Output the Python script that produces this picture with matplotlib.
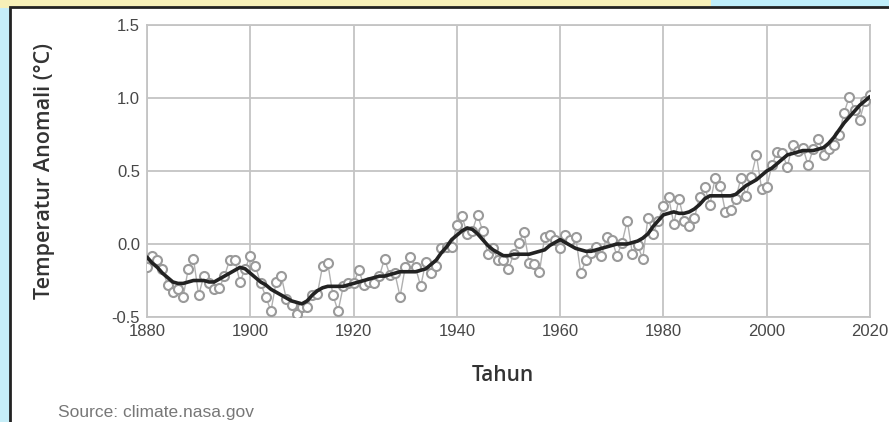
import numpy as np
import matplotlib
matplotlib.use('Agg')
import matplotlib.pyplot as plt
from matplotlib.patches import Rectangle

# Annual global surface temperature anomaly (deg C)
years = np.arange(1880, 2021)
annual = [
    -0.16, -0.08, -0.11, -0.17, -0.28, -0.33, -0.31, -0.36, -0.17, -0.10,
    -0.35, -0.22, -0.27, -0.31, -0.30, -0.22, -0.11, -0.11, -0.26, -0.17,
    -0.08, -0.15, -0.27, -0.36, -0.46, -0.26, -0.22, -0.38, -0.42, -0.48,
    -0.43, -0.43, -0.35, -0.34, -0.15, -0.13, -0.35, -0.46, -0.29, -0.27,
    -0.27, -0.18, -0.28, -0.26, -0.27, -0.22, -0.10, -0.21, -0.20, -0.36,
    -0.16, -0.09, -0.16, -0.29, -0.12, -0.20, -0.15, -0.03, -0.02, -0.02,
    0.13, 0.19, 0.07, 0.09, 0.20, 0.09, -0.07, -0.03, -0.11, -0.11,
    -0.17, -0.07, 0.01, 0.08, -0.13, -0.14, -0.19, 0.05, 0.06, 0.03,
    -0.03, 0.06, 0.03, 0.05, -0.20, -0.11, -0.06, -0.02, -0.08, 0.05,
    0.03, -0.08, 0.01, 0.16, -0.07, -0.01, -0.10, 0.18, 0.07, 0.16,
    0.26, 0.32, 0.14, 0.31, 0.16, 0.12, 0.18, 0.32, 0.39, 0.27,
    0.45, 0.40, 0.22, 0.23, 0.31, 0.45, 0.33, 0.46, 0.61, 0.38,
    0.39, 0.54, 0.63, 0.62, 0.53, 0.68, 0.64, 0.66, 0.54, 0.65,
    0.72, 0.61, 0.65, 0.68, 0.75, 0.90, 1.01, 0.92, 0.85, 0.98,
    1.02,
]
# Smoothed (lowess) curve
smooth = [
    -0.09, -0.13, -0.16, -0.20, -0.23, -0.26, -0.27, -0.27, -0.26, -0.25,
    -0.25, -0.25, -0.26, -0.26, -0.24, -0.22, -0.20, -0.18, -0.16, -0.17,
    -0.20, -0.23, -0.26, -0.28, -0.31, -0.33, -0.35, -0.37, -0.39, -0.40,
    -0.41, -0.39, -0.35, -0.32, -0.30, -0.29, -0.29, -0.29, -0.29, -0.28,
    -0.27, -0.26, -0.25, -0.24, -0.23, -0.22, -0.22, -0.21, -0.20, -0.19,
    -0.19, -0.19, -0.19, -0.18, -0.17, -0.14, -0.11, -0.06, -0.02, 0.03,
    0.06, 0.09, 0.11, 0.10, 0.07, 0.03, -0.01, -0.04, -0.06, -0.08,
    -0.08, -0.07, -0.07, -0.07, -0.07, -0.06, -0.05, -0.04, -0.01, 0.01,
    0.03, 0.01, -0.01, -0.03, -0.04, -0.05, -0.05, -0.04, -0.03, -0.02,
    -0.01, 0.00, 0.00, 0.00, 0.01, 0.02, 0.04, 0.07, 0.12, 0.16,
    0.20, 0.21, 0.22, 0.21, 0.21, 0.22, 0.24, 0.27, 0.31, 0.33,
    0.33, 0.33, 0.33, 0.33, 0.34, 0.37, 0.40, 0.42, 0.44, 0.47,
    0.50, 0.52, 0.55, 0.58, 0.61, 0.62, 0.63, 0.64, 0.64, 0.64,
    0.65, 0.66, 0.69, 0.73, 0.78, 0.83, 0.87, 0.91, 0.95, 0.98,
    1.01,
]
x_ticks = [1880, 1900, 1920, 1940, 1960, 1980, 2000, 2020]
y_ticks = [-0.5, 0.0, 0.5, 1.0, 1.5]

fig = plt.figure(figsize=(8.89, 4.22), dpi=100)
fig.patch.set_facecolor('#c6eef8')

# pale banner strip along the top edge
fig.add_artist(Rectangle((0, 0.982), 0.80, 0.018, transform=fig.transFigure,
                         facecolor='#f7f0b8', edgecolor='none', zorder=0))
fig.add_artist(Rectangle((0.80, 0.982), 0.20, 0.018, transform=fig.transFigure,
                         facecolor='#bfeefa', edgecolor='none', zorder=0))
# white panel with dark frame
fig.add_artist(Rectangle((10 / 889, -0.01), 1.0, 1 - 7 / 422 + 0.01,
                         transform=fig.transFigure, facecolor='white',
                         edgecolor='#222222', linewidth=2, zorder=1))

ax = fig.add_axes([147 / 889, 1 - 317 / 422, 723 / 889, 292 / 422])
ax.set_zorder(2)

ax.plot(years, annual, '-', color='#b0b0b0', linewidth=1.0, zorder=3)
ax.plot(years, annual, 'o', markersize=6.5, markerfacecolor='white',
        markeredgecolor='#9a9a9a', markeredgewidth=1.5, zorder=4)
ax.plot(years, smooth, '-', color='#222222', linewidth=2.6, zorder=5,
        solid_capstyle='round')

ax.set_xlim(1880, 2020)
ax.set_ylim(-0.5, 1.5)
ax.set_xticks(x_ticks)
ax.set_yticks(y_ticks)
ax.set_yticklabels([f'{v:.1f}' for v in y_ticks])
ax.grid(True, color='#c4c4c4', linewidth=1.3)
ax.set_axisbelow(True)
for s in ax.spines.values():
    s.set_color('#c4c4c4')
    s.set_linewidth(1.3)
ax.tick_params(length=0, pad=5, labelsize=12, labelcolor='#474747')
for lab in ax.get_xticklabels() + ax.get_yticklabels():
    lab.set_fontfamily('Liberation Sans')

ax.set_xlabel('Tahun', fontsize=15, fontfamily='Open Sans', fontweight='semibold',
              color='#333333')
ax.xaxis.set_label_coords(0.492, -0.165)
ax.set_ylabel('Temperatur Anomali (°C)', fontsize=15.5, fontfamily='Open Sans',
              fontweight='semibold', color='#333333')
ax.yaxis.set_label_coords(-0.127, 0.5)

fig.text(58 / 889, 1 - 413 / 422, 'Source: climate.nasa.gov', fontsize=12.5,
         fontfamily='Liberation Sans', color='#777777', va='center', zorder=6)

fig.savefig('out.png', dpi=100, facecolor=fig.get_facecolor())
